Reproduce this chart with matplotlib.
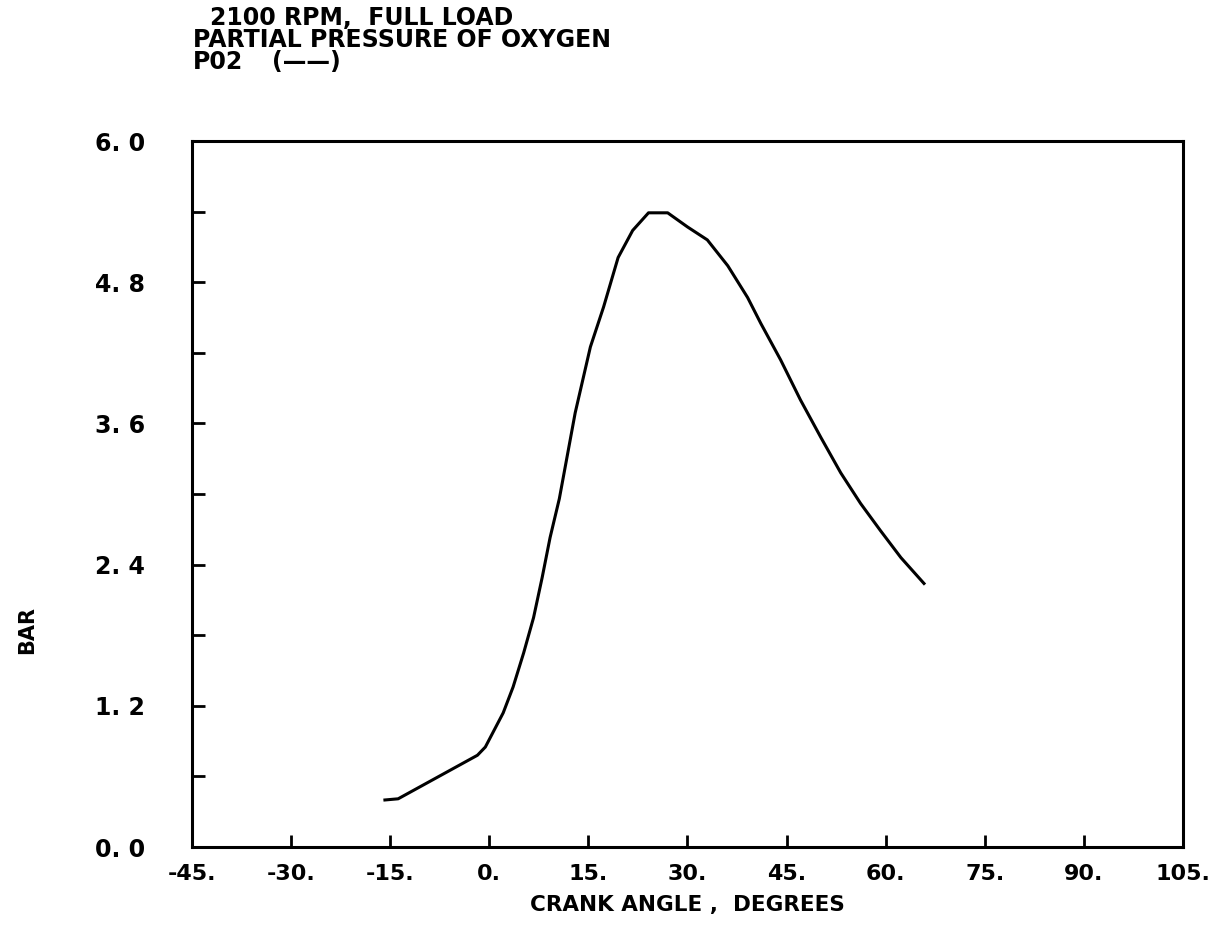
import numpy as np
import matplotlib as mpl
import matplotlib.pyplot as plt

mpl.use("Agg")

plt.rcParams.update({"font.family": "DejaVu Sans"})
plt.rcParams.update({"font.weight": "bold"})
plt.rcParams.update({"axes.labelweight": "bold"})

# crank angle (deg) and partial pressure of O2 (bar)
crank_angle = [-15.8, -13.8, -1.8, -0.6, 2.1, 3.6, 5.2, 6.7, 8.0, 9.2, 10.6,
               13.0, 15.3, 17.3, 19.5, 21.7, 24.1, 27.0, 30.0, 33.0, 36.1,
               39.1, 41.1, 44.1, 47.1, 50.2, 53.2, 56.2, 59.2, 62.3, 65.8]
p_o2 = [0.40, 0.41, 0.78, 0.85, 1.14, 1.36, 1.65, 1.95, 2.29, 2.63, 2.96,
        3.69, 4.25, 4.59, 5.01, 5.24, 5.39, 5.39, 5.27, 5.16, 4.94,
        4.67, 4.45, 4.14, 3.80, 3.48, 3.18, 2.92, 2.69, 2.46, 2.24]

x_ticks = np.arange(-45, 106, 15)
x_labels = ["%d." % v for v in x_ticks]
y_ticks = np.arange(0, 6.01, 0.6)
y_labels = ["%.1f" % v if i % 2 == 0 else "" for i, v in enumerate(y_ticks)]
y_labels = [s.replace(".", ". ") for s in y_labels]

fig = plt.figure(figsize=(12.27, 9.34), dpi=100)
ax = fig.add_axes([0.1565, 0.0931, 0.8076, 0.7559])

ax.plot(crank_angle, p_o2, color="black", lw=2.2, solid_joinstyle="round")

ax.set_xlim(-45, 105)
ax.set_ylim(0, 6.0)
ax.set_xticks(x_ticks, labels=x_labels)
ax.set_yticks(y_ticks, labels=y_labels)
ax.tick_params(axis="both", direction="in", length=9, width=2)
ax.tick_params(axis="x", pad=12, labelsize=16)
ax.tick_params(axis="y", pad=34, labelsize=17)
for s in ax.spines.values():
    s.set_linewidth(2.2)

ax.set_xlabel("CRANK ANGLE ,  DEGREES", fontsize=15.5, labelpad=8)
fig.text(0.022, 0.325, "BAR", rotation=90, fontsize=15, ha="center", va="center")

fig.text(0.171, 0.994, "2100 RPM,  FULL LOAD", fontsize=17, va="top")
fig.text(0.157, 0.970, "PARTIAL PRESSURE OF OXYGEN", fontsize=17, va="top")
fig.text(0.157, 0.946, "P02", fontsize=17, va="top")
fig.text(0.222, 0.946, "(\u2014\u2014)", fontsize=17, va="top")

plt.savefig("out.png", dpi=100)
